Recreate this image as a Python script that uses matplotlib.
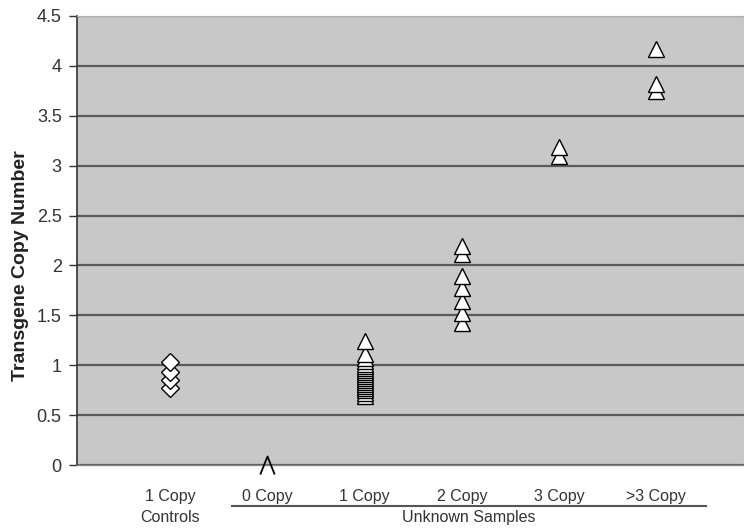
import numpy as np
import matplotlib as mpl
import matplotlib.pyplot as plt
from matplotlib.path import Path

mpl.rcParams['font.family'] = ['Liberation Sans', 'DejaVu Sans']

# category labels along the x axis
xlabels = ['1 Copy\nControls', '0 Copy', '1 Copy', '2 Copy', '3 Copy', '>3 Copy']

# copy number estimates per group
controls = [0.77, 0.85, 0.93, 1.03]
copy0 = [0.0]
copy1 = [0.69, 0.72, 0.75, 0.77, 0.79, 0.81, 0.83, 0.85, 0.87, 0.89, 0.91,
         0.93, 0.95, 0.97, 0.99, 1.01, 1.04, 1.07, 1.11, 1.24]
copy2 = [1.42, 1.52, 1.64, 1.77, 1.89, 2.11, 2.19]
copy3 = [3.10, 3.19]
copy_gt3 = [3.75, 3.82, 4.17]

fig = plt.figure(figsize=(7.44, 5.28), dpi=100)
ax = fig.add_axes([0.1035, 0.1193, 0.8965, 0.8504])

ax.set_facecolor('#c8c8c8')
ax.set_xlim(0.045, 6.9)
ax.set_ylim(0, 4.5)
ax.set_yticks(np.arange(0, 4.51, 0.5))
ax.set_yticklabels(['0', '0.5', '1', '1.5', '2', '2.5', '3', '3.5', '4', '4.5'])
ax.yaxis.grid(True, color='#5a5a5a', linewidth=1.6)
ax.set_axisbelow(True)

for s in ['top', 'right']:
    ax.spines[s].set_color('#b0b0b0')
    ax.spines[s].set_linewidth(0.8)
ax.spines['bottom'].set_color('#8a8a8a')
ax.spines['bottom'].set_linewidth(1.0)
ax.spines['left'].set_color('#333333')
ax.spines['left'].set_linewidth(1.2)

tri = dict(marker='^', markersize=11, markerfacecolor='white',
           markeredgecolor='black', markeredgewidth=1.0, linestyle='none', zorder=3)

ax.plot([1] * len(controls), controls, marker='D', markersize=9.5,
        markerfacecolor='white', markeredgecolor='black', markeredgewidth=1.0,
        linestyle='none', zorder=3)

caret = Path([(-0.8, -1), (0, 1), (0.8, -1)], [Path.MOVETO, Path.LINETO, Path.LINETO])
ax.plot([2] * len(copy0), copy0, marker=caret, markersize=13, markerfacecolor='none',
        markeredgecolor='black', markeredgewidth=1.3, linestyle='none',
        clip_on=False, zorder=3)

ax.plot([3] * len(copy1), copy1, **tri)
ax.plot([4] * len(copy2), copy2, **tri)
ax.plot([5] * len(copy3), copy3, **tri)
ax.plot([6] * len(copy_gt3), copy_gt3, **tri)

ax.set_xticks(np.arange(1, 7))
ax.set_xticklabels(xlabels, fontsize=11.5, color='#333333', linespacing=1.5)
ax.tick_params(axis='x', length=0, pad=17)
ax.tick_params(axis='y', length=6, width=1.0, color='#333333', labelsize=13,
               labelcolor='#333333', pad=5)

ax.set_ylabel('Transgene Copy Number', fontsize=14, fontweight='bold', color='#222222')
ax.yaxis.set_label_coords(-0.072, 0.445)

trans = ax.get_xaxis_transform()
ax.plot([1.64, 6.51], [-0.091, -0.091], color='#555555', linewidth=1.5,
        transform=trans, clip_on=False)
ax.text(4.07, -0.117, 'Unknown Samples', transform=trans, ha='center', va='center',
        fontsize=11.5, color='#333333')

fig.savefig('out.png', dpi=100)
